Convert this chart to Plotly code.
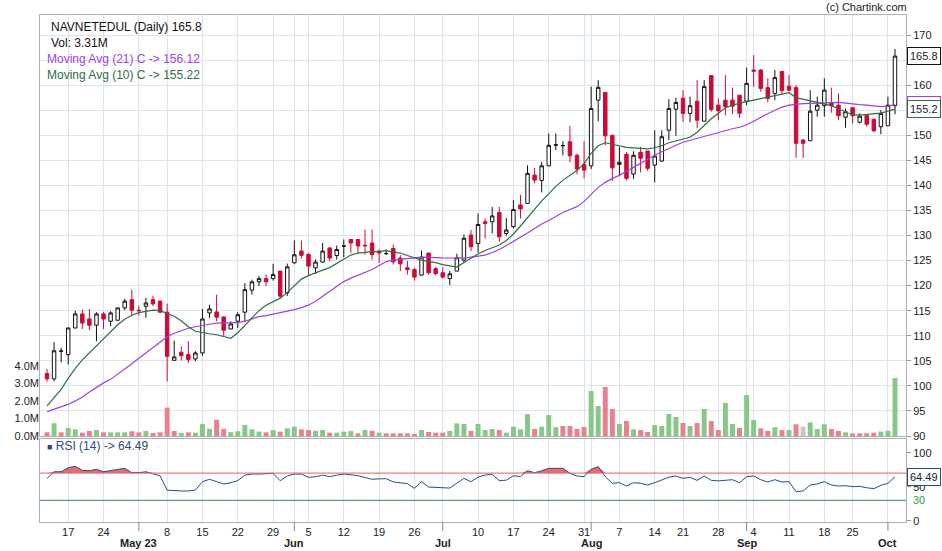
import pandas as pd
import plotly.graph_objects as go

# ---------------- data ----------------
HOLIDAYS = ['2023-04-14', '2023-05-01', '2023-06-28', '2023-08-15', '2023-09-19', '2023-10-02']
dates = [d.strftime('%Y-%m-%d') for d in pd.bdate_range('2023-04-11', '2023-10-04')
         if d.strftime('%Y-%m-%d') not in HOLIDAYS]

opens = [102.45, 101.4, 106.9, 106.24, 111.55, 114.35, 113.35, 112.1, 114.35, 112.9,
         113.1, 115.55, 117.2, 115.1, 115.88, 117.2, 116.9, 114.7, 105.1, 106.7,
         106.24, 105.37, 106.57, 114.55, 114.75, 113.75, 111.35, 112.9, 114.7, 119.1,
         120.76, 121.4, 121.4, 122.9, 118.56, 124.55, 126.9, 126.2, 123.55, 124.7,
         127.5, 126.0, 127.85, 129.2, 129.2, 128.05, 128.5, 126.9, 126.38, 127.4,
         125.5, 123.55, 123.2, 122.1, 126.5, 123.4, 122.55, 121.4, 122.9, 125.1,
         130.1, 128.4, 132.75, 132.75, 134.6, 130.4, 131.75, 136.1, 136.4, 142.05,
         141.0, 143.9, 148.0, 147.9, 148.7, 146.0, 144.2, 143.9, 157.0, 158.55,
         150.0, 144.2, 146.2, 142.25, 146.6, 146.85, 144.05, 144.85, 151.0, 155.2,
         157.4, 154.36, 156.8, 152.8, 161.9, 156.0, 157.0, 157.0, 158.0, 156.8,
         163.0, 163.0, 159.5, 158.35, 162.7, 159.8, 159.5, 149.05, 148.9, 155.0,
         155.9, 156.5, 156.0, 153.6, 155.5, 152.6, 154.0, 153.2, 151.7, 151.9,
         155.9]
highs = [103.4, 108.7, 107.6, 111.6, 115.0, 115.2, 115.35, 114.7, 114.7, 114.9,
         115.6, 117.35, 119.2, 116.0, 117.54, 118.0, 117.1, 116.4, 109.0, 107.9,
         108.9, 106.9, 115.35, 116.2, 118.2, 113.8, 112.9, 114.7, 120.5, 121.2,
         121.9, 122.2, 124.35, 122.9, 124.4, 129.0, 129.0, 126.5, 125.2, 128.5,
         127.7, 128.0, 129.2, 129.2, 129.2, 131.2, 131.2, 127.2, 127.2, 128.2,
         126.1, 124.9, 123.55, 127.0, 126.5, 123.7, 123.7, 122.9, 126.35, 130.2,
         131.1, 134.4, 133.4, 135.7, 135.7, 133.5, 137.1, 138.1, 144.0, 143.5,
         144.7, 150.35, 150.35, 148.8, 151.9, 146.35, 148.8, 159.7, 161.0, 158.55,
         150.0, 147.7, 146.6, 146.8, 147.7, 146.85, 151.0, 151.0, 157.2, 157.5,
         159.0, 157.7, 161.0, 161.0, 161.9, 157.35, 162.0, 159.5, 158.0, 163.5,
         166.0, 163.2, 161.35, 163.0, 162.7, 162.0, 160.0, 149.2, 159.0, 157.7,
         161.35, 159.5, 158.35, 155.35, 155.5, 154.35, 154.0, 153.2, 155.0, 157.7,
         167.2]
lows = [100.85, 100.9, 104.7, 104.24, 111.5, 111.35, 111.1, 108.9, 111.35, 111.9,
        113.0, 115.1, 113.9, 114.0, 113.55, 115.9, 114.55, 100.9, 105.0, 105.04,
        104.6, 104.9, 106.04, 113.55, 112.9, 110.0, 111.3, 111.55, 112.7, 118.2,
        119.9, 119.9, 121.0, 117.55, 117.9, 124.35, 125.4, 121.9, 122.35, 124.55,
        124.9, 125.2, 125.7, 126.5, 126.5, 126.2, 125.2, 124.55, 126.1, 124.2,
        122.9, 122.2, 121.0, 122.0, 122.2, 122.1, 121.4, 120.1, 122.9, 124.5,
        126.9, 126.55, 129.4, 130.4, 128.75, 130.0, 131.4, 133.4, 136.4, 140.4,
        138.6, 143.9, 147.0, 146.0, 144.6, 142.2, 141.4, 143.25, 152.8, 148.0,
        140.85, 142.05, 141.0, 141.25, 142.6, 142.85, 140.6, 144.7, 149.0, 149.9,
        152.7, 152.6, 151.4, 152.8, 154.7, 153.0, 154.0, 154.2, 153.5, 156.0,
        159.7, 158.7, 156.55, 157.0, 158.15, 158.7, 145.5, 145.5, 148.9, 153.7,
        153.7, 154.5, 153.0, 151.5, 152.35, 152.35, 151.7, 150.6, 150.2, 151.9,
        154.2]
closes = [101.4, 107.0, 106.95, 111.55, 114.35, 112.55, 112.1, 114.35, 113.35, 114.55,
          115.55, 116.9, 115.1, 115.0, 116.54, 116.35, 114.7, 105.9, 105.77, 106.04,
          105.24, 106.57, 113.35, 115.35, 113.7, 111.1, 112.35, 114.2, 119.2, 120.76,
          121.4, 120.76, 122.2, 117.9, 123.75, 126.15, 126.05, 123.9, 124.7, 126.9,
          125.5, 127.2, 127.9, 128.5, 127.9, 127.95, 126.2, 126.5, 126.4, 124.75,
          124.35, 123.2, 121.7, 125.7, 122.55, 122.4, 121.7, 122.35, 125.55, 129.45,
          127.75, 132.2, 132.4, 133.9, 129.75, 131.1, 135.2, 135.3, 142.4, 141.05,
          143.9, 148.0, 148.1, 147.95, 145.9, 143.25, 143.05, 155.35, 159.55, 149.9,
          143.5, 144.6, 141.4, 146.0, 145.4, 143.4, 145.85, 149.7, 155.35, 156.55,
          154.36, 155.9, 153.0, 159.7, 155.15, 154.9, 155.7, 155.8, 154.4, 160.35,
          162.8, 159.35, 157.35, 161.5, 158.9, 159.0, 148.4, 148.4, 154.8, 156.0,
          159.0, 155.9, 153.9, 154.7, 153.9, 153.8, 152.2, 150.9, 154.35, 156.0,
          165.8]
volume_m = [0.21, 0.73, 0.21, 0.46, 0.38, 0.19, 0.29, 0.34, 0.21, 0.21,
            0.21, 0.21, 0.27, 0.21, 0.29, 0.17, 0.21, 1.62, 0.29, 0.17,
            0.21, 0.19, 0.68, 0.41, 0.93, 0.41, 0.22, 0.27, 0.63, 0.38,
            0.25, 0.21, 0.34, 0.25, 0.44, 0.53, 0.38, 0.34, 0.30, 0.34,
            0.19, 0.19, 0.25, 0.28, 0.15, 0.34, 0.30, 0.19, 0.15, 0.15,
            0.15, 0.15, 0.11, 0.34, 0.23, 0.19, 0.19, 0.29, 0.72, 0.69,
            0.29, 0.69, 0.34, 0.40, 0.34, 0.19, 0.53, 0.38, 1.25, 0.40,
            0.53, 1.20, 0.50, 0.57, 0.57, 0.40, 0.51, 2.57, 1.71, 2.80,
            1.54, 0.69, 0.86, 0.38, 0.34, 0.23, 0.63, 0.57, 1.26, 1.09,
            0.74, 0.57, 0.74, 1.54, 0.86, 0.34, 1.89, 0.69, 0.46, 2.34,
            0.91, 0.44, 0.29, 0.50, 0.34, 0.34, 0.67, 0.53, 0.78, 0.40,
            0.67, 0.40, 0.29, 0.21, 0.15, 0.15, 0.15, 0.19, 0.25, 0.30,
            3.31]
ma21 = [94.85, 95.3, 95.8, 96.3, 97.0, 97.8, 98.8, 99.7, 100.6, 101.3,
        102.3, 103.3, 104.4, 105.5, 106.6, 107.7, 108.8, 109.8, 110.5, 111.0,
        111.5, 111.8, 112.1, 112.3, 112.5, 112.5, 112.6, 112.6, 112.9, 113.4,
        113.8, 114.0, 114.3, 114.5, 114.8, 115.2, 115.6, 116.1, 116.9, 117.9,
        118.9, 119.9, 120.8, 121.5, 122.1, 122.6, 123.2, 124.0, 124.8, 125.1,
        125.3, 125.45, 125.55, 125.7, 125.7, 125.6, 125.55, 125.5, 125.45, 125.5,
        125.7, 125.9, 126.1, 126.6, 127.2, 128.0, 128.8, 129.7, 130.5, 131.4,
        132.3, 133.0, 133.8, 134.6, 135.2, 135.75, 136.8, 138.2, 139.6, 140.6,
        141.4, 142.0, 142.8, 143.6, 144.5, 145.2, 146.0, 146.7, 147.4, 148.0,
        148.6, 149.0, 149.4, 149.8, 150.1, 150.5, 151.0, 151.3, 151.6, 152.1,
        152.8, 153.6, 154.3, 155.0, 155.6, 156.0, 156.2, 156.3, 156.35, 156.4,
        156.5, 156.55, 156.55, 156.4, 156.2, 156.1, 156.0, 155.8, 155.7, 155.8,
        156.12]
ma10 = [96.0, 97.6, 99.3, 101.5, 103.5, 105.2, 106.6, 108.0, 109.3, 110.8,
        112.2, 113.3, 114.1, 114.6, 114.9, 115.1, 115.0, 114.5, 113.9, 113.0,
        111.8, 110.9, 110.6, 110.4, 110.2, 109.9, 109.5, 110.6, 112.0, 113.6,
        115.0, 116.1, 116.8, 117.5, 118.6, 120.0, 121.3, 122.0, 122.6, 123.1,
        123.6, 124.4, 125.2, 126.1, 126.5, 126.7, 126.8, 126.8, 127.0, 126.7,
        126.5, 126.0, 125.5, 125.1, 124.8, 124.6, 124.2, 123.9, 123.7, 124.6,
        125.5, 126.3, 127.0, 127.6, 128.1, 129.0, 130.3, 131.9, 133.6, 135.3,
        136.9, 138.3, 139.8, 141.0, 142.0, 143.0, 144.3, 146.4, 147.9, 148.5,
        148.2, 147.9, 147.6, 147.5, 147.4, 147.3, 147.5, 147.9, 148.5, 148.9,
        149.2, 149.6, 150.6, 152.0, 153.3, 154.4, 155.5, 156.0, 156.4, 156.7,
        157.0, 157.3, 157.6, 158.0, 158.3, 158.5, 157.5, 157.2, 156.8, 156.6,
        156.3, 155.9, 155.3, 154.7, 154.1, 154.0, 154.1, 154.3, 154.4, 154.8,
        155.22]
rsi14 = [62, 72, 72, 78, 80, 74, 73.5, 75.6, 72, 73.5,
         74.5, 77, 70.6, 70.6, 72, 69, 66, 45, 44, 43.7,
         43.7, 45.1, 57.4, 60.9, 57.4, 54, 55.9, 59, 67, 68.6,
         68.6, 68.6, 69.6, 58.8, 65.7, 68.6, 68.6, 63.8, 64.7, 67,
         64.7, 67, 68.6, 67.5, 66.2, 63.5, 60.9, 61.5, 61.8, 57,
         55.9, 54.5, 47.6, 57.4, 49.5, 49.1, 49, 48, 55, 62.3,
         57.4, 64, 67.2, 68, 59, 59.6, 66, 65, 73.5, 70.6,
         73.5, 77, 77, 77, 69.6, 65.7, 64.7, 75.6, 79.4, 64.7,
         55, 55.9, 51, 55.9, 55, 52.5, 55.9, 60, 64, 65.7,
         62.3, 63.8, 59.3, 65.7, 59.3, 58.5, 59.5, 60.3, 55.9, 64.7,
         65.7, 60.3, 56.9, 60.3, 56.9, 57.5, 42.7, 43.7, 52.5, 54,
         57.4, 52.5, 51, 51.5, 50, 50.5, 48.5, 47, 52, 55,
         64.49]

MONTH_LABELS = {5: 'May 23', 6: 'Jun', 7: 'Jul', 8: 'Aug', 9: 'Sep', 10: 'Oct'}
PRICE_TICKS = list(range(90, 171, 5))
VOL_TICKS = [0, 1, 2, 3, 4]
VOL_TICKTEXT = ['0.0M', '1.0M', '2.0M', '3.0M', '4.0M']

# ---------------- styling ----------------
W, H = 942, 551
ML, MR, MT, MB = 40, 36, 15, 29
PW, PH = W - ML - MR, H - MT - MB
RED = '#cc0a35'
GRID = '#dbe5ec'
FRAME = '#b0b0b0'
FONT = 'Liberation Sans, Arial, sans-serif'
PURPLE = '#a13fe0'
DKGREEN = '#2f6e45'
RSIBLUE = '#2b4d7e'


def py(px):  # pixel y -> paper y
    return (MT + PH - px) / PH


def pxx(px):  # pixel x -> paper x
    return (px - ML) / PW


dts = pd.to_datetime(dates)
tickvals, ticktext, month_pos = [], [], []
for k, d in enumerate(dts):
    if k > 0 and d.month != dts[k - 1].month:
        tickvals.append(dates[k]); ticktext.append('')
        month_pos.append((k, MONTH_LABELS.get(d.month, d.strftime('%b'))))
    elif d.weekday() == 0:
        tickvals.append(dates[k]); ticktext.append(str(d.day))

vol_colors = ['#e8808f']
for k in range(1, len(closes)):
    if closes[k] > closes[k - 1]:
        vol_colors.append('#86c886')
    elif closes[k] < closes[k - 1]:
        vol_colors.append('#e8808f')
    else:
        vol_colors.append('#c8c8c8')

fig = go.Figure()

fig.add_trace(go.Bar(x=dates, y=volume_m, marker=dict(color=vol_colors, line=dict(width=0)),
                     xaxis='x', yaxis='y3', hoverinfo='skip'))

fig.add_trace(go.Candlestick(
    x=dates, open=opens, high=highs, low=lows, close=closes,
    increasing=dict(line=dict(color='#111111', width=1), fillcolor='white'),
    decreasing=dict(line=dict(color=RED, width=1), fillcolor=RED),
    whiskerwidth=0, xaxis='x', yaxis='y', hoverinfo='skip'))

fig.add_trace(go.Scatter(x=dates, y=ma21, mode='lines', line=dict(color=PURPLE, width=1.2),
                         xaxis='x', yaxis='y', hoverinfo='skip'))
fig.add_trace(go.Scatter(x=dates, y=ma10, mode='lines', line=dict(color=DKGREEN, width=1.2),
                         xaxis='x', yaxis='y', hoverinfo='skip'))

# RSI overbought fill
fig.add_trace(go.Scatter(x=dates, y=[70] * len(rsi14), mode='lines', line=dict(width=0),
                         xaxis='x2', yaxis='y2', hoverinfo='skip'))
fig.add_trace(go.Scatter(x=dates, y=[max(v, 70) for v in rsi14], mode='lines', line=dict(width=0),
                         fill='tonexty', fillcolor='rgba(228,80,95,0.85)',
                         xaxis='x2', yaxis='y2', hoverinfo='skip'))
fig.add_trace(go.Scatter(x=dates, y=rsi14, mode='lines', line=dict(color=RSIBLUE, width=1),
                         xaxis='x2', yaxis='y2', hoverinfo='skip'))

n = len(dates)
xr = [-(47 - ML) / 7.067, (n - 1) + (ML + PW - 895) / 7.067]
main_bottom_px = 436
rsi_top_px = 439
dom_main = [py(main_bottom_px), 1]
dom_rsi = [0, py(rsi_top_px)]
price_range = [90, 90 + (main_bottom_px - MT) / 5.0125]
vol_range = [0, (main_bottom_px - MT) / 17.5]
rsi_px_per = 0.68
rsi_range = [-(MT + PH - 520.7) / rsi_px_per, (520.7 - rsi_top_px) / rsi_px_per]

tickfont = dict(family=FONT, size=11, color='#222')

fig.update_layout(
    width=W, height=H, autosize=False,
    margin=dict(l=ML, r=MR, t=MT, b=MB, autoexpand=False),
    paper_bgcolor='white', plot_bgcolor='white',
    showlegend=False, bargap=0.3,
    font=dict(family=FONT, size=11, color='#222'),
    xaxis=dict(domain=[0, 1], anchor='y', type='category', range=xr,
               tickvals=tickvals, ticktext=ticktext, showticklabels=False,
               showgrid=True, gridcolor=GRID, gridwidth=1, ticks='',
               showline=True, mirror=True, linecolor=FRAME, linewidth=1,
               rangeslider=dict(visible=False), zeroline=False, automargin=False),
    yaxis=dict(domain=dom_main, anchor='x', side='right', range=price_range,
               tickvals=PRICE_TICKS, showgrid=True, gridcolor=GRID, gridwidth=1,
               ticks='outside', ticklen=4, tickcolor='#999', tickfont=tickfont,
               showline=True, mirror=True, linecolor=FRAME, linewidth=1, zeroline=False,
               automargin=False),
    yaxis3=dict(overlaying='y', side='left', anchor='x', range=vol_range,
                tickvals=VOL_TICKS, ticktext=VOL_TICKTEXT, showgrid=False,
                ticks='', tickfont=tickfont, zeroline=False, showline=False, automargin=False),
    xaxis2=dict(domain=[0, 1], anchor='y2', type='category', range=xr,
                tickvals=tickvals, ticktext=ticktext, tickfont=tickfont,
                showgrid=True, gridcolor=GRID, gridwidth=1, ticks='',
                showline=True, mirror=True, linecolor=FRAME, linewidth=1,
                rangeslider=dict(visible=False), zeroline=False, automargin=False),
    yaxis2=dict(domain=dom_rsi, anchor='x2', side='right', range=rsi_range,
                tickvals=[0, 50, 100], showgrid=False, ticks='outside', ticklen=4,
                tickcolor='#999', tickfont=tickfont,
                showline=True, mirror=True, linecolor=FRAME, linewidth=1, zeroline=False,
                automargin=False),
)

shapes = [
    dict(type='line', xref='paper', yref='y2', x0=0, x1=1, y0=70, y1=70,
         line=dict(color='#e06060', width=1)),
    dict(type='line', xref='paper', yref='y2', x0=0, x1=1, y0=30, y1=30,
         line=dict(color='#3a8a4a', width=1)),
]
for k, lab in month_pos:
    shapes.append(dict(type='line', xref='x2', yref='paper', x0=k, x1=k,
                       y0=0, y1=py(531), line=dict(color='#888', width=1)))
fig.update_layout(shapes=shapes)

ann = []
hdr = [("NAVNETEDUL (Daily) 165.8", 49, 26.7, '#111'),
       ("Vol: 3.31M", 49, 42.7, '#111'),
       ("Moving Avg (21) C -> 156.12", 45, 59, PURPLE),
       ("Moving Avg (10) C -> 155.22", 45, 74.7, DKGREEN)]
for t, x0, y0, c in hdr:
    ann.append(dict(text=t, xref='paper', yref='paper', x=pxx(x0), y=py(y0),
                    xanchor='left', yanchor='middle', showarrow=False,
                    font=dict(family=FONT, size=12, color=c)))
ann.append(dict(text='(c) Chartink.com', xref='paper', yref='paper', x=pxx(909), y=py(7),
                xanchor='right', yanchor='middle', showarrow=False,
                font=dict(family=FONT, size=11, color='#222')))
ann.append(dict(text='<span style="font-size:9px">■</span> RSI (14) -> 64.49', xref='paper', yref='paper',
                x=pxx(45), y=py(445.5), xanchor='left', yanchor='middle', showarrow=False,
                font=dict(family=FONT, size=12, color=RSIBLUE)))
for k, lab in month_pos:
    ann.append(dict(text='<b>%s</b>' % lab, xref='x2', yref='paper', x=k, y=py(542.5),
                    xanchor='center', yanchor='middle', showarrow=False,
                    font=dict(family=FONT, size=11, color='#222')))
# right-side value boxes
boxes = [(ma21[-1], '%.1f' % ma21[-1], PURPLE, 'y'),
         (ma10[-1], '%.1f' % ma10[-1], DKGREEN, 'y'),
         (closes[-1], '%.1f' % closes[-1], '#111', 'y'),
         (rsi14[-1], '%.2f' % rsi14[-1], RSIBLUE, 'y2')]
for v, t, c, yr in boxes:
    ann.append(dict(text=t, xref='paper', yref=yr, x=pxx(907), y=v,
                    xanchor='left', yanchor='middle', showarrow=False,
                    bgcolor='white', bordercolor=c, borderwidth=1, borderpad=2,
                    font=dict(family=FONT, size=11, color='#222')))
ann.append(dict(text='30', xref='paper', yref='y2', x=pxx(911), y=30,
                xanchor='left', yanchor='middle', showarrow=False,
                font=dict(family=FONT, size=11, color='#3a9a4a')))
fig.update_layout(annotations=ann)

fig.write_html("out.html", config={'displayModeBar': False},
               post_script="document.body.style.margin='0px';document.body.style.overflow='hidden';")
